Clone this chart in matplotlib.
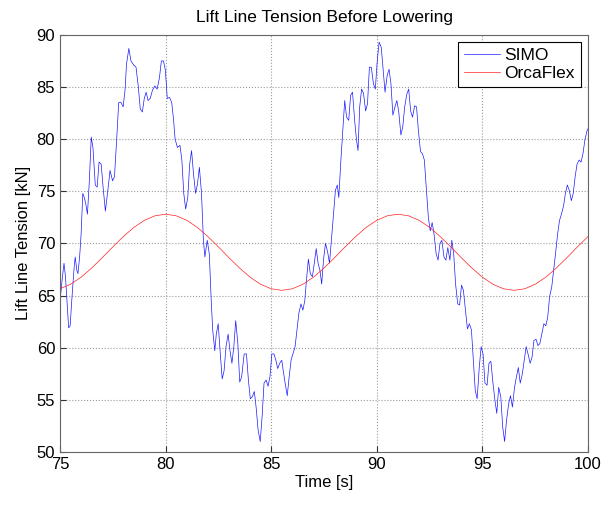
import numpy as np
import matplotlib
matplotlib.use("Agg")
import matplotlib.pyplot as plt

plt.rcParams['font.family'] = ['Liberation Sans', 'DejaVu Sans']

# SIMO time series
simo_t = [75.0, 75.1, 75.19, 75.26, 75.33, 75.41, 75.48, 75.57, 75.67, 75.72, 75.8, 75.85,
          75.93, 76.0, 76.08, 76.15, 76.22, 76.3, 76.39, 76.48, 76.56, 76.67, 76.76, 76.85,
          76.95, 77.04, 77.15, 77.26, 77.37, 77.49, 77.58, 77.69, 77.78, 77.89, 77.99, 78.08,
          78.15, 78.26, 78.36, 78.49, 78.6, 78.71, 78.8, 78.9, 78.99, 79.08, 79.17, 79.27,
          79.38, 79.49, 79.6, 79.71, 79.8, 79.9, 79.99, 80.08, 80.19, 80.29, 80.38, 80.45,
          80.56, 80.68, 80.77, 80.86, 80.95, 81.05, 81.14, 81.23, 81.32, 81.42, 81.51, 81.6,
          81.7, 81.79, 81.86, 81.97, 82.07, 82.16, 82.23, 82.33, 82.4, 82.49, 82.59, 82.68,
          82.77, 82.86, 82.96, 83.05, 83.14, 83.23, 83.32, 83.42, 83.51, 83.6, 83.72, 83.83,
          83.92, 84.01, 84.11, 84.2, 84.29, 84.38, 84.48, 84.57, 84.66, 84.76, 84.85, 84.94,
          85.03, 85.13, 85.22, 85.31, 85.4, 85.5, 85.57, 85.66, 85.76, 85.85, 85.94, 86.03,
          86.13, 86.22, 86.31, 86.41, 86.5, 86.59, 86.67, 86.76, 86.85, 86.95, 87.04, 87.13,
          87.22, 87.31, 87.39, 87.48, 87.57, 87.67, 87.76, 87.85, 87.95, 88.04, 88.13, 88.2,
          88.3, 88.39, 88.48, 88.57, 88.67, 88.76, 88.85, 88.95, 89.04, 89.11, 89.19, 89.28,
          89.37, 89.47, 89.56, 89.65, 89.74, 89.84, 89.93, 90.02, 90.11, 90.21, 90.3, 90.39,
          90.49, 90.58, 90.67, 90.76, 90.86, 90.95, 91.04, 91.14, 91.23, 91.32, 91.42, 91.51,
          91.6, 91.69, 91.79, 91.88, 91.97, 92.07, 92.16, 92.25, 92.34, 92.44, 92.53, 92.62,
          92.71, 92.81, 92.9, 92.99, 93.08, 93.18, 93.27, 93.36, 93.46, 93.55, 93.64, 93.73,
          93.83, 93.92, 94.01, 94.1, 94.2, 94.29, 94.38, 94.48, 94.57, 94.66, 94.75, 94.85,
          94.94, 95.03, 95.12, 95.22, 95.31, 95.4, 95.5, 95.59, 95.68, 95.77, 95.87, 95.96,
          96.05, 96.14, 96.24, 96.33, 96.42, 96.52, 96.61, 96.7, 96.79, 96.89, 96.98, 97.07,
          97.16, 97.26, 97.35, 97.44, 97.54, 97.63, 97.72, 97.81, 97.91, 98.0, 98.09, 98.18,
          98.28, 98.37, 98.46, 98.56, 98.65, 98.74, 98.84, 98.93, 99.02, 99.11, 99.21, 99.3,
          99.39, 99.48, 99.58, 99.67, 99.76, 99.85, 99.95, 100.0]
simo_val = [64.4, 66.5, 68.1, 66.8, 64.5, 61.9, 62.1, 64.9, 67.7, 68.7, 67.4, 67.1,
            68.7, 70.9, 74.8, 74.4, 73.8, 72.8, 76.0, 80.2, 79.2, 75.6, 75.4, 77.8,
            77.6, 75.4, 73.1, 75.0, 77.0, 76.0, 76.4, 80.2, 83.5, 83.5, 83.1, 84.7,
            87.2, 88.7, 87.5, 87.1, 86.9, 85.0, 82.9, 82.6, 83.9, 84.5, 83.7, 83.9,
            84.7, 85.1, 84.8, 85.9, 87.5, 87.5, 86.6, 83.9, 84.0, 83.5, 81.8, 80.0,
            79.2, 79.4, 78.0, 74.8, 73.3, 74.4, 77.6, 78.9, 76.7, 74.8, 75.7, 77.3,
            74.8, 70.3, 68.7, 70.3, 69.0, 64.5, 61.7, 59.7, 61.3, 62.3, 59.4, 57.0,
            57.8, 60.1, 61.3, 59.7, 58.5, 60.1, 62.6, 60.4, 56.7, 57.2, 59.4, 59.4,
            56.9, 55.1, 55.3, 55.8, 54.2, 52.1, 51.0, 53.4, 56.6, 56.9, 56.3, 57.2,
            59.4, 59.4, 58.8, 58.0, 58.5, 58.8, 57.8, 56.6, 55.4, 57.2, 58.8, 59.4,
            60.1, 61.7, 63.3, 64.2, 63.6, 64.5, 66.5, 68.5, 67.1, 66.8, 68.1, 69.5,
            68.1, 67.4, 66.1, 68.5, 70.0, 69.2, 68.1, 70.3, 72.8, 75.1, 75.6, 74.4,
            78.0, 80.8, 83.7, 82.1, 81.8, 84.2, 84.5, 81.8, 79.9, 78.9, 83.1, 84.8,
            84.4, 82.7, 83.4, 86.9, 86.9, 85.3, 84.8, 87.5, 89.3, 88.8, 86.6, 84.5,
            86.1, 86.7, 85.3, 82.3, 83.1, 83.7, 82.6, 80.4, 81.2, 83.1, 84.3, 84.8,
            82.7, 82.1, 83.2, 83.1, 80.8, 78.8, 78.6, 78.0, 75.4, 72.5, 71.2, 72.0,
            70.9, 69.0, 68.4, 70.0, 70.3, 68.7, 68.4, 69.6, 68.4, 70.3, 69.0, 66.1,
            64.2, 64.1, 66.0, 65.5, 63.6, 61.8, 62.3, 61.7, 58.8, 55.9, 55.1, 58.1,
            60.1, 59.4, 56.6, 56.4, 58.5, 58.7, 56.6, 55.0, 53.7, 56.2, 55.3, 52.4,
            51.0, 53.0, 54.6, 55.4, 54.3, 56.2, 57.2, 58.1, 56.6, 57.5, 58.8, 60.1,
            59.4, 58.5, 59.1, 60.7, 60.8, 60.2, 60.4, 61.3, 62.3, 62.1, 62.9, 64.9,
            65.8, 67.4, 69.0, 70.9, 72.2, 72.8, 73.6, 74.8, 75.6, 75.1, 74.1, 74.8,
            76.4, 77.6, 78.0, 77.8, 78.6, 79.9, 80.8, 81.0]

# OrcaFlex time series, sampled every 0.5 s
orca_t = np.arange(75.0, 100.01, 0.5)
orca_val = [65.65, 66.08, 66.76, 67.64, 68.63, 69.67, 70.66, 71.54, 72.22, 72.65,
            72.8, 72.65, 72.22, 71.54, 70.66, 69.67, 68.63, 67.64, 66.76, 66.08,
            65.65, 65.5, 65.65, 66.08, 66.76, 67.64, 68.63, 69.67, 70.66, 71.54,
            72.22, 72.65, 72.8, 72.65, 72.22, 71.54, 70.66, 69.67, 68.63, 67.64,
            66.76, 66.08, 65.65, 65.5, 65.65, 66.08, 66.76, 67.64, 68.63, 69.67,
            70.66]

fig = plt.figure(figsize=(6.14, 5.05), dpi=100)
ax = fig.add_axes([0.0977, 0.105, 0.860, 0.826])

ax.plot(simo_t, simo_val, color='#1a1aff', linewidth=0.5, label='SIMO')
ax.plot(orca_t, orca_val, color='#ff2020', linewidth=0.5, label='OrcaFlex')

ax.set_xlim(75, 100)
ax.set_ylim(50, 90)
ax.set_xticks(range(75, 101, 5))
ax.set_yticks(range(50, 91, 5))
ax.grid(True, linestyle=':', color='#999999', linewidth=0.8)
ax.tick_params(direction='in', labelsize=12, length=4, colors='#333333', labelcolor='black')
for s in ax.spines.values():
    s.set_color('#666666')

ax.set_title('Lift Line Tension Before Lowering', fontsize=12.5, pad=9)
ax.set_xlabel('Time [s]', fontsize=12, labelpad=2)
ax.set_ylabel('Lift Line Tension [kN]', fontsize=12, labelpad=4)

leg = ax.legend(loc='upper right', fontsize=12.5, fancybox=False, framealpha=1,
                edgecolor='black', handlelength=2.1, borderaxespad=0.4,
                labelspacing=0.15, handletextpad=0.25, borderpad=0.35)
leg.get_frame().set_linewidth(0.8)

fig.savefig('out.png', dpi=100)
